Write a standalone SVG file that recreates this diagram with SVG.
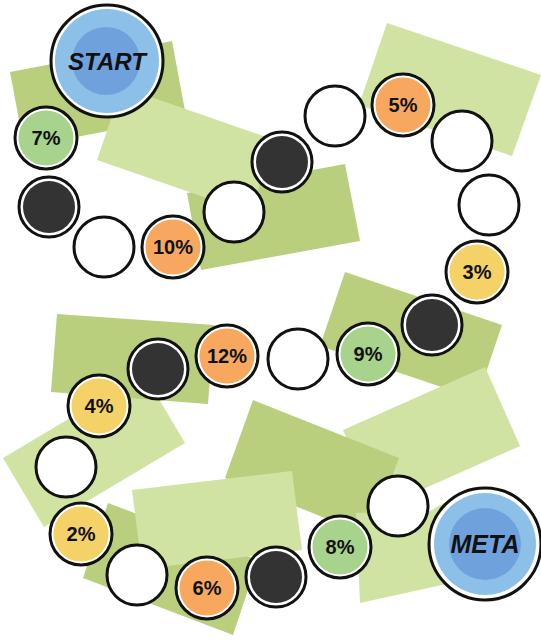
<svg xmlns="http://www.w3.org/2000/svg" width="541" height="642" viewBox="0 0 541 642">
<style>
.dk{fill:#b9cf7e}
.lt{fill:#d1e3a3}
.ring{fill:#ffffff;stroke:#111111;stroke-width:3}
.blk{fill:#333333}
.org{fill:#f8a85e}
.yel{fill:#f4d268}
.grn{fill:#a8d38c}
.lb{fill:#8cc0e9}
.db{fill:#6fa2dd}
.pct{font-family:"Liberation Sans",Arial,sans-serif;font-size:20px;font-weight:bold;fill:#111111;text-anchor:middle}
.big{font-family:"Liberation Sans",Arial,sans-serif;font-weight:bold;font-style:italic;fill:#111111;text-anchor:middle}
</style>
<rect width="541" height="642" fill="#ffffff"/>
<g id="board">
<polygon class="dk" points="10,72 172,41 186,116 24,147"/>
<polygon class="dk" points="187,193 345,164 360,241 201,270"/>
<polygon class="lt" points="122,87 275,140 250,213 97,160"/>
<polygon class="lt" points="387,23 541,75 512,156 359,105"/>
<polygon class="dk" points="345,272 502,325 477,399 320,346"/>
<polygon class="lt" points="343,430 485,367 520,446 378,509"/>
<polygon class="lt" points="3,458 144,374 185,443 44,527"/>
<polygon class="dk" points="57,314 214,325 208,404 51,392"/>
<polygon class="dk" points="108,503 258,560 233,635 83,578"/>
<polygon class="dk" points="253,400 399,458 370,536 225,478"/>
<polygon class="lt" points="356,513 430,511 468,489 478,577 360,603"/>
<polygon class="lt" points="132,490 292,471 302,550 142,569"/>
</g>
<g id="connectors"></g>
<g id="start"><circle class="ring" cx="107" cy="61" r="56"/><circle class="lb" cx="107" cy="61" r="52"/><circle class="db" cx="106" cy="61" r="34"/><text class="big" x="107" y="70" font-size="24">START</text></g>
<g id="s1"><circle class="ring" cx="46" cy="138" r="31"/><circle class="grn" cx="46" cy="138" r="27.5"/><text class="pct" x="46" y="145">7%</text></g>
<g id="s2"><circle class="ring" cx="49" cy="207" r="30"/><circle class="blk" cx="49" cy="207" r="26"/></g>
<g id="s3"><circle class="ring" cx="104" cy="247" r="30"/></g>
<g id="s4"><circle class="ring" cx="173" cy="247" r="31"/><circle class="org" cx="173" cy="247" r="27.5"/><text class="pct" x="173" y="254">10%</text></g>
<g id="s5"><circle class="ring" cx="234" cy="212" r="30"/></g>
<g id="s6"><circle class="ring" cx="282" cy="162" r="30"/><circle class="blk" cx="282" cy="162" r="26"/></g>
<g id="s7"><circle class="ring" cx="335" cy="116" r="30"/></g>
<g id="s8"><circle class="ring" cx="403" cy="105" r="31"/><circle class="org" cx="403" cy="105" r="27.5"/><text class="pct" x="403" y="112">5%</text></g>
<g id="s9"><circle class="ring" cx="462" cy="141" r="30"/></g>
<g id="s10"><circle class="ring" cx="489" cy="205" r="30"/></g>
<g id="s11"><circle class="ring" cx="477" cy="272" r="31"/><circle class="yel" cx="477" cy="272" r="27.5"/><text class="pct" x="477" y="279">3%</text></g>
<g id="s12"><circle class="ring" cx="432" cy="325" r="30"/><circle class="blk" cx="432" cy="325" r="26"/></g>
<g id="s13"><circle class="ring" cx="368" cy="354" r="31"/><circle class="grn" cx="368" cy="354" r="27.5"/><text class="pct" x="368" y="361">9%</text></g>
<g id="s14"><circle class="ring" cx="298" cy="359" r="30"/></g>
<g id="s15"><circle class="ring" cx="227" cy="356" r="31"/><circle class="org" cx="227" cy="356" r="27.5"/><text class="pct" x="227" y="363">12%</text></g>
<g id="s16"><circle class="ring" cx="158" cy="369" r="30"/><circle class="blk" cx="158" cy="369" r="26"/></g>
<g id="s17"><circle class="ring" cx="99" cy="406" r="31"/><circle class="yel" cx="99" cy="406" r="27.5"/><text class="pct" x="99" y="413">4%</text></g>
<g id="s18"><circle class="ring" cx="66" cy="467" r="30"/></g>
<g id="s19"><circle class="ring" cx="81" cy="534" r="31"/><circle class="yel" cx="81" cy="534" r="27.5"/><text class="pct" x="81" y="541">2%</text></g>
<g id="s20"><circle class="ring" cx="137" cy="575" r="30"/></g>
<g id="s21"><circle class="ring" cx="207" cy="588" r="31"/><circle class="org" cx="207" cy="588" r="27.5"/><text class="pct" x="207" y="595">6%</text></g>
<g id="s22"><circle class="ring" cx="276" cy="577" r="30"/><circle class="blk" cx="276" cy="577" r="26"/></g>
<g id="s23"><circle class="ring" cx="340" cy="547" r="31"/><circle class="grn" cx="340" cy="547" r="27.5"/><text class="pct" x="340" y="554">8%</text></g>
<g id="s24"><circle class="ring" cx="398" cy="506" r="30"/></g>
<g id="meta"><circle class="ring" cx="485" cy="544" r="56"/><circle class="lb" cx="485" cy="544" r="51"/><circle class="db" cx="485" cy="544" r="36"/><text class="big" x="485" y="553" font-size="25">META</text></g>
</svg>
